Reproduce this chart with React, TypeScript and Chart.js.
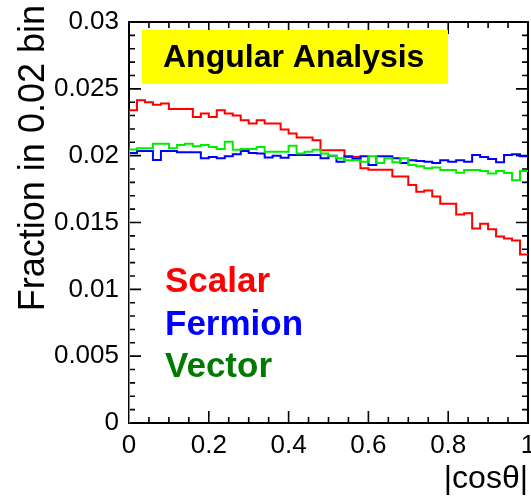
import React, { useEffect, useRef } from "react";
import { Chart, registerables } from "chart.js";

Chart.register(...registerables);

const FONT = '"Liberation Sans", Arial, Helvetica, sans-serif';

// Histogram binning: 50 bins of width 0.02 on |cos(theta)| in [0, 1]
const BIN_WIDTH = 0.02;

// Fraction per bin
const scalar = [
  0.0234, 0.02415, 0.0240, 0.0238, 0.0239, 0.0235, 0.0235, 0.0235, 0.0229, 0.02315,
  0.0229, 0.0234, 0.02315, 0.0230, 0.02265, 0.0224, 0.02265, 0.0224, 0.0224, 0.02195,
  0.02165, 0.02135, 0.02135, 0.02115, 0.0204, 0.0204, 0.0204, 0.0199, 0.0199, 0.01905,
  0.01895, 0.01895, 0.01895, 0.01845, 0.01845, 0.0178, 0.0173, 0.0174, 0.01695, 0.0164,
  0.0164, 0.0156, 0.0157, 0.01455, 0.0149, 0.0145, 0.01395, 0.0138, 0.01365, 0.0126,
];
const fermion = [
  0.0202, 0.02035, 0.02035, 0.01967, 0.02035, 0.02035, 0.02025, 0.02025, 0.02025, 0.0198,
  0.0199, 0.0198, 0.01995, 0.0201, 0.02035, 0.0202, 0.02017, 0.01987, 0.0200, 0.01985,
  0.02005, 0.02005, 0.02005, 0.02005, 0.0198, 0.0200, 0.01955, 0.01995, 0.01975, 0.01995,
  0.0193, 0.01995, 0.01995, 0.0198, 0.01945, 0.01965, 0.0196, 0.01955, 0.01945, 0.01965,
  0.01955, 0.01965, 0.01955, 0.02005, 0.0199, 0.01975, 0.0195, 0.02005, 0.0201, 0.01995,
];
const vector = [
  0.02047, 0.02055, 0.02055, 0.0209, 0.0209, 0.02055, 0.0208, 0.0209, 0.0207, 0.0208,
  0.02065, 0.0205, 0.02105, 0.02045, 0.0205, 0.0205, 0.02065, 0.0203, 0.0203, 0.0203,
  0.02075, 0.02017, 0.0203, 0.02045, 0.02017, 0.0200, 0.0198, 0.01965, 0.01965, 0.01955,
  0.01995, 0.01945, 0.0198, 0.0195, 0.0198, 0.0193, 0.0192, 0.01905, 0.01912, 0.01892,
  0.01892, 0.01872, 0.01892, 0.01892, 0.01885, 0.01867, 0.01885, 0.0187, 0.01817, 0.01885,
];

const seriesNames = ["Scalar", "Fermion", "Vector"];
const lineColors = ["#ff0000", "#0000ff", "#00ee00"];
const textColors = ["#ff0000", "#0000ff", "#007a00"];

const xTickValues = [0, 0.2, 0.4, 0.6, 0.8, 1];
const yTickValues = [0, 0.005, 0.01, 0.015, 0.02, 0.025, 0.03];

const xTitle = "|cosθ|";
const yTitle = "Fraction in 0.02 bin";
const boxTitle = "Angular Analysis";

function toSteps(values: number[]) {
  const pts: { x: number; y: number }[] = [{ x: 0, y: 0 }];
  values.forEach((v, i) => pts.push({ x: i * BIN_WIDTH, y: v }));
  pts.push({ x: values.length * BIN_WIDTH, y: values[values.length - 1] });
  return pts;
}

function fmt(v: number) {
  return String(Number(v.toFixed(4)));
}

const decorPlugin = {
  id: "rootDecor",
  beforeDatasetsDraw(chart: any) {
    const { ctx, chartArea: a, scales } = chart;
    const xs = scales.x;
    const ys = scales.y;
    ctx.save();
    ctx.strokeStyle = "#000";
    ctx.lineWidth = 1.6;
    ctx.beginPath();
    // y ticks: major every 0.005, minor every 0.001
    const yMax = ys.max;
    const nY = Math.round(yMax / 0.001);
    for (let k = 0; k <= nY; k++) {
      const p = ys.getPixelForValue(k * 0.001);
      const len = k % 5 === 0 ? 12 : 6;
      ctx.moveTo(a.left, p);
      ctx.lineTo(a.left + len, p);
      ctx.moveTo(a.right, p);
      ctx.lineTo(a.right - len, p);
    }
    // x ticks: major every 0.2, minor every 0.05
    const nX = Math.round(xs.max / 0.05);
    for (let k = 0; k <= nX; k++) {
      const p = xs.getPixelForValue(k * 0.05);
      const len = k % 4 === 0 ? 12 : 6;
      ctx.moveTo(p, a.bottom);
      ctx.lineTo(p, a.bottom - len);
      ctx.moveTo(p, a.top);
      ctx.lineTo(p, a.top + len);
    }
    ctx.stroke();
    ctx.lineWidth = 2;
    ctx.strokeRect(a.left, a.top, a.right - a.left, a.bottom - a.top);
    ctx.restore();
  },
  afterDatasetsDraw(chart: any) {
    const { ctx } = chart;
    ctx.save();
    // Title box
    ctx.fillStyle = "#ffff00";
    ctx.fillRect(142, 30, 306, 54);
    ctx.fillStyle = "#000";
    ctx.font = `bold 32px ${FONT}`;
    ctx.textBaseline = "alphabetic";
    ctx.textAlign = "left";
    ctx.fillText(boxTitle, 163, 67);
    // Legend texts
    ctx.font = `bold 35px ${FONT}`;
    const baselines = [292, 335, 377];
    seriesNames.forEach((name, i) => {
      ctx.fillStyle = textColors[i];
      ctx.fillText(name, 165, baselines[i]);
    });
    // Y axis title
    ctx.fillStyle = "#000";
    ctx.font = `36px ${FONT}`;
    ctx.translate(44, 5);
    ctx.rotate(-Math.PI / 2);
    ctx.textAlign = "right";
    ctx.fillText(yTitle, 0, 0);
    ctx.restore();
  },
};

export default function App() {
  const ref = useRef<HTMLCanvasElement | null>(null);
  useEffect(() => {
    if (!ref.current) return;
    const series = [scalar, fermion, vector];
    const chart = new Chart(ref.current, {
      type: "line",
      data: {
        datasets: series.map((vals, i) => ({
          label: seriesNames[i],
          data: toSteps(vals),
          borderColor: lineColors[i],
          backgroundColor: lineColors[i],
          borderWidth: 2,
          pointRadius: 0,
          stepped: true,
          fill: false,
          order: 2 - i,
        })),
      },
      options: {
        responsive: false,
        animation: false,
        events: [],
        layout: { padding: { top: 22, right: 3, left: 0, bottom: 0 } },
        plugins: {
          legend: { display: false },
          tooltip: { enabled: false },
          title: { display: false },
        },
        scales: {
          x: {
            type: "linear",
            min: 0,
            max: 1,
            grid: { display: false, drawTicks: false },
            border: { display: false },
            afterBuildTicks: (s: any) => {
              s.ticks = xTickValues.map((v) => ({ value: v }));
            },
            ticks: {
              autoSkip: false,
              maxRotation: 0,
              padding: 7,
              color: "#000",
              font: { family: FONT, size: 26 },
              callback: (v: any) => fmt(Number(v)),
            },
            title: {
              display: true,
              text: xTitle,
              align: "end",
              color: "#000",
              font: { family: FONT, size: 32 },
              padding: { top: 0, bottom: 0 },
            },
            afterFit: (s: any) => {
              s.height = 75;
              s.paddingLeft = 0;
              s.paddingRight = 0;
            },
          },
          y: {
            type: "linear",
            min: 0,
            max: 0.03,
            grid: { display: false, drawTicks: false },
            border: { display: false },
            afterBuildTicks: (s: any) => {
              s.ticks = yTickValues.map((v) => ({ value: v }));
            },
            ticks: {
              autoSkip: false,
              padding: 10,
              color: "#000",
              font: { family: FONT, size: 26 },
              callback: (v: any) => fmt(Number(v)),
            },
            afterFit: (s: any) => {
              s.width = 129;
              s.paddingTop = 0;
              s.paddingBottom = 0;
            },
          },
        },
      },
      plugins: [decorPlugin],
    } as any);
    return () => chart.destroy();
  }, []);
  return (
    <div style={{ position: "absolute", left: 0, top: 0, width: 531, height: 498, background: "#fff" }}>
      <canvas ref={ref} width={531} height={498} style={{ display: "block" }} />
    </div>
  );
}
